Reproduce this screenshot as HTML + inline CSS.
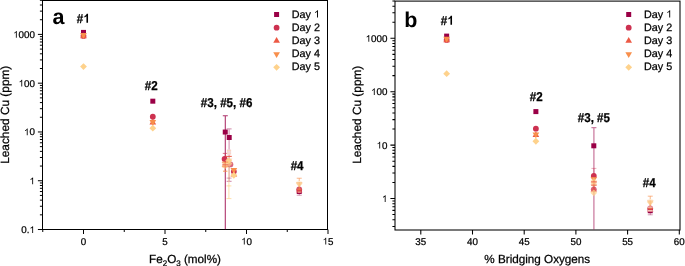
<!DOCTYPE html>
<html><head><meta charset="utf-8"><style>html,body{margin:0;padding:0;background:#fff;overflow:hidden;}svg{display:block;will-change:transform;}text{text-rendering:geometricPrecision;font-kerning:none;}</style></head>
<body>
<svg width="685" height="266" viewBox="0 0 685 266">
<rect width="685" height="266" fill="#fff"/>
<rect x="42.5" y="0.5" width="285.0" height="229.0" fill="none" stroke="#000" stroke-width="1.0"/>
<path d="M37.90 229.52H42.50M37.90 180.74H42.50M37.90 131.96H42.50M37.90 83.18H42.50M37.90 34.40H42.50M39.90 214.84H42.50M39.90 206.25H42.50M39.90 200.15H42.50M39.90 195.42H42.50M39.90 191.56H42.50M39.90 188.30H42.50M39.90 185.47H42.50M39.90 182.97H42.50M39.90 166.06H42.50M39.90 157.47H42.50M39.90 151.37H42.50M39.90 146.64H42.50M39.90 142.78H42.50M39.90 139.52H42.50M39.90 136.69H42.50M39.90 134.19H42.50M39.90 117.28H42.50M39.90 108.69H42.50M39.90 102.59H42.50M39.90 97.86H42.50M39.90 94.00H42.50M39.90 90.74H42.50M39.90 87.91H42.50M39.90 85.41H42.50M39.90 68.50H42.50M39.90 59.91H42.50M39.90 53.81H42.50M39.90 49.08H42.50M39.90 45.22H42.50M39.90 41.96H42.50M39.90 39.13H42.50M39.90 36.63H42.50M39.90 19.72H42.50M39.90 11.13H42.50M39.90 5.03H42.50M39.90 0.30H42.50M83.50 229.50V234.00M165.00 229.50V234.00M246.50 229.50V234.00M328.00 229.50V234.00M42.75 229.50V232.00M124.25 229.50V232.00M205.75 229.50V232.00M287.25 229.50V232.00" stroke="#000" stroke-width="1.0" fill="none"/>
<g transform="translate(34.90,232.92)" fill="#000" stroke="#000" stroke-width="0.25"><text x="-13.623" y="0" font-size="9.8" font-family="'Liberation Sans', sans-serif">0. </text><path transform="translate(-5.450,0) scale(0.004785,-0.004785)" d="M763 0H583V1098Q518 1038 412 979T223 890V1057Q373 1125 485 1221T645 1409H763Z"/></g>
<g transform="translate(34.90,184.14)" fill="#000" stroke="#000" stroke-width="0.25"><text x="-5.450" y="0" font-size="9.8" font-family="'Liberation Sans', sans-serif"> </text><path transform="translate(-5.450,0) scale(0.004785,-0.004785)" d="M763 0H583V1098Q518 1038 412 979T223 890V1057Q373 1125 485 1221T645 1409H763Z"/></g>
<g transform="translate(34.90,135.36)" fill="#000" stroke="#000" stroke-width="0.25"><text x="-10.901" y="0" font-size="9.8" font-family="'Liberation Sans', sans-serif"> 0</text><path transform="translate(-10.901,0) scale(0.004785,-0.004785)" d="M763 0H583V1098Q518 1038 412 979T223 890V1057Q373 1125 485 1221T645 1409H763Z"/></g>
<g transform="translate(34.90,86.58)" fill="#000" stroke="#000" stroke-width="0.25"><text x="-16.351" y="0" font-size="9.8" font-family="'Liberation Sans', sans-serif"> 00</text><path transform="translate(-16.351,0) scale(0.004785,-0.004785)" d="M763 0H583V1098Q518 1038 412 979T223 890V1057Q373 1125 485 1221T645 1409H763Z"/></g>
<g transform="translate(34.90,37.80)" fill="#000" stroke="#000" stroke-width="0.25"><text x="-21.801" y="0" font-size="9.8" font-family="'Liberation Sans', sans-serif"> 000</text><path transform="translate(-21.801,0) scale(0.004785,-0.004785)" d="M763 0H583V1098Q518 1038 412 979T223 890V1057Q373 1125 485 1221T645 1409H763Z"/></g>
<g transform="translate(83.50,244.50)" fill="#000" stroke="#000" stroke-width="0.25"><text x="-2.725" y="0" font-size="9.8" font-family="'Liberation Sans', sans-serif">0</text></g>
<g transform="translate(165.00,244.50)" fill="#000" stroke="#000" stroke-width="0.25"><text x="-2.725" y="0" font-size="9.8" font-family="'Liberation Sans', sans-serif">5</text></g>
<g transform="translate(246.50,244.50)" fill="#000" stroke="#000" stroke-width="0.25"><text x="-5.450" y="0" font-size="9.8" font-family="'Liberation Sans', sans-serif"> 0</text><path transform="translate(-5.450,0) scale(0.004785,-0.004785)" d="M763 0H583V1098Q518 1038 412 979T223 890V1057Q373 1125 485 1221T645 1409H763Z"/></g>
<g transform="translate(328.00,244.50)" fill="#000" stroke="#000" stroke-width="0.25"><text x="-5.450" y="0" font-size="9.8" font-family="'Liberation Sans', sans-serif"> 5</text><path transform="translate(-5.450,0) scale(0.004785,-0.004785)" d="M763 0H583V1098Q518 1038 412 979T223 890V1057Q373 1125 485 1221T645 1409H763Z"/></g>
<rect x="395.0" y="1.1" width="285.0" height="228.9" fill="none" stroke="#000" stroke-width="1.05"/>
<path d="M390.40 198.50H395.00M390.40 145.10H395.00M390.40 91.70H395.00M390.40 38.30H395.00M392.40 226.42H395.00M392.40 219.75H395.00M392.40 214.58H395.00M392.40 210.35H395.00M392.40 206.77H395.00M392.40 203.67H395.00M392.40 200.94H395.00M392.40 182.42H395.00M392.40 173.02H395.00M392.40 166.35H395.00M392.40 161.18H395.00M392.40 156.95H395.00M392.40 153.37H395.00M392.40 150.27H395.00M392.40 147.54H395.00M392.40 129.02H395.00M392.40 119.62H395.00M392.40 112.95H395.00M392.40 107.78H395.00M392.40 103.55H395.00M392.40 99.97H395.00M392.40 96.87H395.00M392.40 94.14H395.00M392.40 75.62H395.00M392.40 66.22H395.00M392.40 59.55H395.00M392.40 54.38H395.00M392.40 50.15H395.00M392.40 46.57H395.00M392.40 43.47H395.00M392.40 40.74H395.00M392.40 22.22H395.00M392.40 12.82H395.00M392.40 6.15H395.00M392.40 0.98H395.00M420.80 230.00V234.50M472.50 230.00V234.50M524.20 230.00V234.50M575.90 230.00V234.50M627.60 230.00V234.50M679.30 230.00V234.50" stroke="#000" stroke-width="1.05" fill="none"/>
<g transform="translate(387.40,201.90)" fill="#000" stroke="#000" stroke-width="0.25"><text x="-5.450" y="0" font-size="9.8" font-family="'Liberation Sans', sans-serif"> </text><path transform="translate(-5.450,0) scale(0.004785,-0.004785)" d="M763 0H583V1098Q518 1038 412 979T223 890V1057Q373 1125 485 1221T645 1409H763Z"/></g>
<g transform="translate(387.40,148.50)" fill="#000" stroke="#000" stroke-width="0.25"><text x="-10.901" y="0" font-size="9.8" font-family="'Liberation Sans', sans-serif"> 0</text><path transform="translate(-10.901,0) scale(0.004785,-0.004785)" d="M763 0H583V1098Q518 1038 412 979T223 890V1057Q373 1125 485 1221T645 1409H763Z"/></g>
<g transform="translate(387.40,95.10)" fill="#000" stroke="#000" stroke-width="0.25"><text x="-16.351" y="0" font-size="9.8" font-family="'Liberation Sans', sans-serif"> 00</text><path transform="translate(-16.351,0) scale(0.004785,-0.004785)" d="M763 0H583V1098Q518 1038 412 979T223 890V1057Q373 1125 485 1221T645 1409H763Z"/></g>
<g transform="translate(387.40,41.70)" fill="#000" stroke="#000" stroke-width="0.25"><text x="-21.801" y="0" font-size="9.8" font-family="'Liberation Sans', sans-serif"> 000</text><path transform="translate(-21.801,0) scale(0.004785,-0.004785)" d="M763 0H583V1098Q518 1038 412 979T223 890V1057Q373 1125 485 1221T645 1409H763Z"/></g>
<g transform="translate(420.80,244.50)" fill="#000" stroke="#000" stroke-width="0.25"><text x="-5.450" y="0" font-size="9.8" font-family="'Liberation Sans', sans-serif">35</text></g>
<g transform="translate(472.50,244.50)" fill="#000" stroke="#000" stroke-width="0.25"><text x="-5.450" y="0" font-size="9.8" font-family="'Liberation Sans', sans-serif">40</text></g>
<g transform="translate(524.20,244.50)" fill="#000" stroke="#000" stroke-width="0.25"><text x="-5.450" y="0" font-size="9.8" font-family="'Liberation Sans', sans-serif">45</text></g>
<g transform="translate(575.90,244.50)" fill="#000" stroke="#000" stroke-width="0.25"><text x="-5.450" y="0" font-size="9.8" font-family="'Liberation Sans', sans-serif">50</text></g>
<g transform="translate(627.60,244.50)" fill="#000" stroke="#000" stroke-width="0.25"><text x="-5.450" y="0" font-size="9.8" font-family="'Liberation Sans', sans-serif">55</text></g>
<g transform="translate(679.30,244.50)" fill="#000" stroke="#000" stroke-width="0.25"><text x="-5.450" y="0" font-size="9.8" font-family="'Liberation Sans', sans-serif">60</text></g>
<g transform="translate(8.60,114.75) rotate(-90)" fill="#000" stroke="#000" stroke-width="0.25"><text x="-49.072" y="0" font-size="11.85" font-family="'Liberation Sans', sans-serif">Leached Cu (ppm)</text></g>
<g transform="translate(360.90,114.75) rotate(-90)" fill="#000" stroke="#000" stroke-width="0.25"><text x="-49.072" y="0" font-size="11.85" font-family="'Liberation Sans', sans-serif">Leached Cu (ppm)</text></g>
<text x="185" y="262.7" text-anchor="middle" font-size="11.7" stroke="#000" stroke-width="0.25" font-family="'Liberation Sans', sans-serif">Fe<tspan font-size="8" dy="2.8">2</tspan><tspan dy="-2.8">O</tspan><tspan font-size="8" dy="2.8">3</tspan><tspan dy="-2.8"> (mol%)</tspan></text>
<g transform="translate(537.30,262.50)" fill="#000" stroke="#000" stroke-width="0.25"><text x="-53.001" y="0" font-size="11.7" font-family="'Liberation Sans', sans-serif">% Bridging Oxygens</text></g>
<text x="52.5" y="23.9" font-size="21.5" font-weight="bold" font-family="'Liberation Sans', sans-serif">a</text>
<text x="404.2" y="27.1" font-size="21.5" font-weight="bold" font-family="'Liberation Sans', sans-serif">b</text>
<g transform="translate(83.20,22.70) scale(1.0,1.11)" fill="#000" stroke="#000" stroke-width="0.25"><text x="-6.451" y="0" font-size="11.6" font-weight="bold" font-family="'Liberation Sans', sans-serif"># </text><path transform="translate(0.000,0) scale(0.005664,-0.005664)" d="M854 0H573V1013Q419 876 212 810V1054Q321 1088 449 1184T625 1409H854Z"/></g>
<g transform="translate(151.30,90.30) scale(1.0,1.11)" fill="#000" stroke="#000" stroke-width="0.25"><text x="-6.451" y="0" font-size="11.6" font-weight="bold" font-family="'Liberation Sans', sans-serif">#2</text></g>
<g transform="translate(226.60,107.10) scale(1.0,1.11)" fill="#000" stroke="#000" stroke-width="0.25"><text x="-25.800" y="0" font-size="11.6" font-weight="bold" font-family="'Liberation Sans', sans-serif">#3, #5, #6</text></g>
<g transform="translate(297.10,170.20) scale(1.0,1.11)" fill="#000" stroke="#000" stroke-width="0.25"><text x="-6.451" y="0" font-size="11.6" font-weight="bold" font-family="'Liberation Sans', sans-serif">#4</text></g>
<g transform="translate(447.20,24.70) scale(1.0,1.11)" fill="#000" stroke="#000" stroke-width="0.25"><text x="-6.451" y="0" font-size="11.6" font-weight="bold" font-family="'Liberation Sans', sans-serif"># </text><path transform="translate(0.000,0) scale(0.005664,-0.005664)" d="M854 0H573V1013Q419 876 212 810V1054Q321 1088 449 1184T625 1409H854Z"/></g>
<g transform="translate(536.30,100.60) scale(1.0,1.11)" fill="#000" stroke="#000" stroke-width="0.25"><text x="-6.451" y="0" font-size="11.6" font-weight="bold" font-family="'Liberation Sans', sans-serif">#2</text></g>
<g transform="translate(593.90,121.50) scale(1.0,1.11)" fill="#000" stroke="#000" stroke-width="0.25"><text x="-16.126" y="0" font-size="11.6" font-weight="bold" font-family="'Liberation Sans', sans-serif">#3, #5</text></g>
<g transform="translate(649.30,186.90) scale(1.0,1.11)" fill="#000" stroke="#000" stroke-width="0.25"><text x="-6.451" y="0" font-size="11.6" font-weight="bold" font-family="'Liberation Sans', sans-serif">#4</text></g>
<rect x="274.10" y="12.00" width="5.00" height="5.00" fill="#9A0046"/>
<g transform="translate(291.75,17.60)" fill="#000" stroke="#000" stroke-width="0.25"><text x="0.000" y="0" font-size="10.8" font-family="'Liberation Sans', sans-serif">Day  </text><path transform="translate(22.206,0) scale(0.005273,-0.005273)" d="M763 0H583V1098Q518 1038 412 979T223 890V1057Q373 1125 485 1221T645 1409H763Z"/></g>
<circle cx="276.60" cy="27.70" r="2.90" fill="#CD3150"/>
<g transform="translate(291.75,30.80)" fill="#000" stroke="#000" stroke-width="0.25"><text x="0.000" y="0" font-size="10.8" font-family="'Liberation Sans', sans-serif">Day 2</text></g>
<path d="M276.60 37.05L279.93 42.82L273.27 42.82Z" fill="#EC5944"/>
<g transform="translate(291.75,44.00)" fill="#000" stroke="#000" stroke-width="0.25"><text x="0.000" y="0" font-size="10.8" font-family="'Liberation Sans', sans-serif">Day 3</text></g>
<path d="M273.27 52.17L279.93 52.17L276.60 57.95Z" fill="#F88F4B"/>
<g transform="translate(291.75,57.20)" fill="#000" stroke="#000" stroke-width="0.25"><text x="0.000" y="0" font-size="10.8" font-family="'Liberation Sans', sans-serif">Day 4</text></g>
<path d="M276.60 63.90L280.00 67.30L276.60 70.70L273.20 67.30Z" fill="#FED28C"/>
<g transform="translate(291.75,70.40)" fill="#000" stroke="#000" stroke-width="0.25"><text x="0.000" y="0" font-size="10.8" font-family="'Liberation Sans', sans-serif">Day 5</text></g>
<rect x="626.20" y="12.00" width="5.00" height="5.00" fill="#9A0046"/>
<g transform="translate(643.95,17.60)" fill="#000" stroke="#000" stroke-width="0.25"><text x="0.000" y="0" font-size="10.8" font-family="'Liberation Sans', sans-serif">Day  </text><path transform="translate(22.206,0) scale(0.005273,-0.005273)" d="M763 0H583V1098Q518 1038 412 979T223 890V1057Q373 1125 485 1221T645 1409H763Z"/></g>
<circle cx="628.70" cy="27.70" r="2.90" fill="#CD3150"/>
<g transform="translate(643.95,30.80)" fill="#000" stroke="#000" stroke-width="0.25"><text x="0.000" y="0" font-size="10.8" font-family="'Liberation Sans', sans-serif">Day 2</text></g>
<path d="M628.70 37.05L632.03 42.82L625.37 42.82Z" fill="#EC5944"/>
<g transform="translate(643.95,44.00)" fill="#000" stroke="#000" stroke-width="0.25"><text x="0.000" y="0" font-size="10.8" font-family="'Liberation Sans', sans-serif">Day 3</text></g>
<path d="M625.37 52.17L632.03 52.17L628.70 57.95Z" fill="#F88F4B"/>
<g transform="translate(643.95,57.20)" fill="#000" stroke="#000" stroke-width="0.25"><text x="0.000" y="0" font-size="10.8" font-family="'Liberation Sans', sans-serif">Day 4</text></g>
<path d="M628.70 63.90L632.10 67.30L628.70 70.70L625.30 67.30Z" fill="#FED28C"/>
<g transform="translate(643.95,70.40)" fill="#000" stroke="#000" stroke-width="0.25"><text x="0.000" y="0" font-size="10.8" font-family="'Liberation Sans', sans-serif">Day 5</text></g>
<rect x="81.00" y="29.91" width="5.00" height="5.00" fill="#9A0046"/>
<circle cx="83.50" cy="35.91" r="2.90" fill="#CD3150"/>
<path d="M83.50 32.45L86.83 38.22L80.17 38.22Z" fill="#EC5944"/>
<path d="M80.17 32.88L86.83 32.88L83.50 38.66Z" fill="#F88F4B"/>
<path d="M83.50 63.18L86.90 66.58L83.50 69.98L80.10 66.58Z" fill="#FED28C"/>
<rect x="150.31" y="98.68" width="5.00" height="5.00" fill="#9A0046"/>
<circle cx="152.81" cy="116.74" r="2.90" fill="#CD3150"/>
<path d="M152.81 118.73L156.14 124.50L149.48 124.50Z" fill="#EC5944"/>
<path d="M149.48 120.11L156.14 120.11L152.81 125.89Z" fill="#F88F4B"/>
<path d="M152.81 124.80L156.21 128.20L152.81 131.60L149.41 128.20Z" fill="#FED28C"/>
<g stroke="#9A0046" stroke-width="0.9" stroke-opacity="0.45" fill="none"><path d="M299.24 187.47V195.21M296.74 195.21H301.74"/></g>
<rect x="296.74" y="189.00" width="5.00" height="5.00" fill="#9A0046"/>
<circle cx="299.24" cy="189.39" r="2.90" fill="#CD3150" fill-opacity="0.85"/>
<path d="M299.24 186.77L302.57 192.55L295.91 192.55Z" fill="#EC5944" fill-opacity="0.5"/>
<g stroke="#F88F4B" stroke-width="0.9" stroke-opacity="0.7" fill="none"><path d="M299.24 178.24V189.29M296.74 178.24H301.74M296.74 189.29H301.74"/></g>
<g stroke="#FBC9A8" stroke-width="1.4" stroke-opacity="0.6" fill="none"><path d="M299.24 192.23V192.23M297.64 192.23H300.84M297.64 192.23H300.84"/></g>
<path d="M295.91 181.88L302.57 181.88L299.24 187.66Z" fill="#F88F4B" fill-opacity="0.5"/>
<path d="M299.24 180.14L302.64 183.54L299.24 186.94L295.84 183.54Z" fill="#FED28C" fill-opacity="0.6"/>
<g stroke="#FFF0E0" stroke-width="0.8" stroke-opacity="0.7" fill="none"><path d="M299.24 181.43V181.43M296.64 181.43H301.84M296.64 181.43H301.84"/></g>
<rect x="444.15" y="33.61" width="5.00" height="5.00" fill="#9A0046"/>
<circle cx="446.65" cy="39.96" r="2.90" fill="#CD3150"/>
<path d="M446.65 36.54L449.98 42.31L443.32 42.31Z" fill="#EC5944"/>
<path d="M443.32 36.82L449.98 36.82L446.65 42.59Z" fill="#F88F4B"/>
<path d="M446.65 70.23L450.05 73.63L446.65 77.03L443.25 73.63Z" fill="#FED28C"/>
<rect x="533.38" y="109.10" width="5.00" height="5.00" fill="#9A0046"/>
<circle cx="535.88" cy="128.68" r="2.90" fill="#CD3150"/>
<path d="M535.88 131.24L539.22 137.01L532.55 137.01Z" fill="#EC5944"/>
<path d="M532.55 132.57L539.22 132.57L535.88 138.34Z" fill="#F88F4B"/>
<path d="M535.88 137.86L539.28 141.26L535.88 144.66L532.48 141.26Z" fill="#FED28C"/>
<g stroke="#9A0046" stroke-width="0.9" stroke-opacity="0.45" fill="none"><path d="M650.24 206.31V214.81M647.74 214.81H652.74"/></g>
<rect x="647.74" y="208.24" width="5.00" height="5.00" fill="#9A0046"/>
<circle cx="650.24" cy="208.42" r="2.90" fill="#CD3150" fill-opacity="0.85"/>
<path d="M650.24 205.92L653.58 211.70L646.91 211.70Z" fill="#EC5944" fill-opacity="0.5"/>
<g stroke="#F88F4B" stroke-width="0.9" stroke-opacity="0.7" fill="none"><path d="M650.24 196.18V208.31M647.74 196.18H652.74M647.74 208.31H652.74"/></g>
<g stroke="#FFE6DC" stroke-width="0.9" stroke-opacity="0.85" fill="none"><path d="M650.24 210.85V210.85M647.84 210.85H652.64M647.84 210.85H652.64"/></g>
<g stroke="#FFE6DC" stroke-width="0.8" stroke-opacity="0.7" fill="none"><path d="M650.24 207.11V207.11M647.84 207.11H652.64M647.84 207.11H652.64"/></g>
<path d="M646.91 200.37L653.58 200.37L650.24 206.15Z" fill="#F88F4B" fill-opacity="0.5"/>
<path d="M650.24 198.60L653.64 202.00L650.24 205.40L646.84 202.00Z" fill="#FED28C" fill-opacity="0.6"/>
<g stroke="#FFF0E0" stroke-width="0.8" stroke-opacity="0.7" fill="none"><path d="M650.24 199.69V199.69M647.64 199.69H652.84M647.64 199.69H652.84"/></g>
<g stroke="#9A0046" stroke-width="1.1" stroke-opacity="0.8" fill="none"><path d="M225.30 115.70V229.20M222.80 115.70H227.80"/></g>
<g stroke="#9A0046" stroke-width="1.2" stroke-opacity="0.38" fill="none"><path d="M229.10 128.80V181.30M226.60 128.80H231.60M226.60 181.30H231.60"/></g>
<g stroke="#CD3150" stroke-width="0.9" stroke-opacity="0.75" fill="none"><path d="M225.30 153.40V171.20M222.80 153.40H227.80"/></g>
<g stroke="#FED28C" stroke-width="1.2" stroke-opacity="0.6" fill="none"><path d="M228.90 166.00V185.90"/></g>
<g stroke="#FED28C" stroke-width="0.9" stroke-opacity="0.8" fill="none"><path d="M228.90 185.90V198.60M226.40 185.90H231.40M226.40 198.60H231.40"/></g>
<g stroke="#9A0046" stroke-width="1.2" stroke-opacity="0.3" fill="none"><path d="M229.10 178.20V178.20M226.60 178.20H231.60M226.60 178.20H231.60"/></g>
<rect x="222.75" y="129.55" width="5.00" height="5.00" fill="#9A0046"/>
<rect x="226.70" y="135.00" width="5.00" height="5.00" fill="#9A0046"/>
<rect x="226.9" y="149.4" width="4.2" height="5.3" fill="#F3D9DF"/>
<path d="M226.9 150.6H231.1M226.9 153.3H231.1" stroke="#FAD9B0" stroke-width="0.8"/>
<circle cx="224.60" cy="159.00" r="2.90" fill="#CD3150"/>
<g stroke="#EC5944" stroke-width="0.9" stroke-opacity="0.8" fill="none"><path d="M228.80 156.40V156.40M225.90 156.40H231.70M225.90 156.40H231.70"/></g>
<path d="M224.90 161.35L228.23 167.12L221.57 167.12Z" fill="#EC5944" fill-opacity="0.4"/>
<path d="M221.47 161.88L228.13 161.88L224.80 167.65Z" fill="#F88F4B" fill-opacity="0.45"/>
<path d="M225.00 162.60L228.40 166.00L225.00 169.40L221.60 166.00Z" fill="#FED28C" fill-opacity="0.55"/>
<circle cx="230.40" cy="164.40" r="2.90" fill="#CD3150" fill-opacity="0.75"/>
<path d="M225.77 158.47L232.43 158.47L229.10 164.25Z" fill="#F88F4B" fill-opacity="0.35"/>
<path d="M228.70 157.20L232.10 160.60L228.70 164.00L225.30 160.60Z" fill="#FED28C" fill-opacity="0.9"/>
<path d="M229.10 160.20L232.50 163.60L229.10 167.00L225.70 163.60Z" fill="#FED28C" fill-opacity="0.7"/>
<g stroke="#F88F4B" stroke-width="0.9" stroke-opacity="0.6" fill="none"><path d="M225.20 162.10V162.10M222.20 162.10H228.20M222.20 162.10H228.20"/></g>
<g stroke="#EC5944" stroke-width="0.9" stroke-opacity="0.5" fill="none"><path d="M225.20 164.80V164.80M222.20 164.80H228.20M222.20 164.80H228.20"/></g>
<g stroke="#F88F4B" stroke-width="0.9" stroke-opacity="0.5" fill="none"><path d="M225.20 166.80V166.80M222.20 166.80H228.20M222.20 166.80H228.20"/></g>
<g stroke="#F88F4B" stroke-width="0.9" stroke-opacity="0.6" fill="none"><path d="M225.20 171.20V171.20M223.00 171.20H227.40M223.00 171.20H227.40"/></g>
<circle cx="233.85" cy="171.60" r="2.90" fill="#CD3150"/>
<path d="M233.85 170.75L237.18 176.53L230.52 176.53Z" fill="#EC5944"/>
<path d="M230.52 168.07L237.18 168.07L233.85 173.85Z" fill="#F88F4B"/>
<path d="M233.85 171.90L237.25 175.30L233.85 178.70L230.45 175.30Z" fill="#FED28C"/>
<g stroke="#9A0046" stroke-width="1.3" stroke-opacity="0.5" fill="none"><path d="M593.90 127.60V229.60M591.40 127.60H596.40"/></g>
<rect x="591.30" y="143.30" width="5.00" height="5.00" fill="#9A0046"/>
<g stroke="#CD3150" stroke-width="0.9" stroke-opacity="0.45" fill="none"><path d="M593.90 168.40V190.00M591.40 168.40H596.40M591.40 190.00H596.40"/></g>
<circle cx="593.80" cy="175.90" r="2.90" fill="#CD3150"/>
<path d="M590.47 176.97L597.13 176.97L593.80 182.75Z" fill="#F88F4B" fill-opacity="0.85"/>
<path d="M593.80 177.60L597.20 181.00L593.80 184.40L590.40 181.00Z" fill="#FED28C" fill-opacity="0.55"/>
<path d="M590.47 182.07L597.13 182.07L593.80 187.85Z" fill="#F88F4B" fill-opacity="0.4"/>
<path d="M593.80 180.90L597.20 184.30L593.80 187.70L590.40 184.30Z" fill="#FED28C" fill-opacity="0.5"/>
<circle cx="593.80" cy="189.30" r="2.90" fill="#CD3150" fill-opacity="0.75"/>
<path d="M593.80 186.15L597.13 191.93L590.47 191.93Z" fill="#EC5944" fill-opacity="0.5"/>
<path d="M593.80 189.40L597.20 192.80L593.80 196.20L590.40 192.80Z" fill="#FED28C" fill-opacity="0.75"/>
<g stroke="#EC5944" stroke-width="0.9" stroke-opacity="0.6" fill="none"><path d="M593.90 181.80V181.80M591.10 181.80H596.70M591.10 181.80H596.70"/></g>
<g stroke="#EC5944" stroke-width="0.9" stroke-opacity="0.6" fill="none"><path d="M593.90 185.20V185.20M591.10 185.20H596.70M591.10 185.20H596.70"/></g>
</svg>
</body></html>
